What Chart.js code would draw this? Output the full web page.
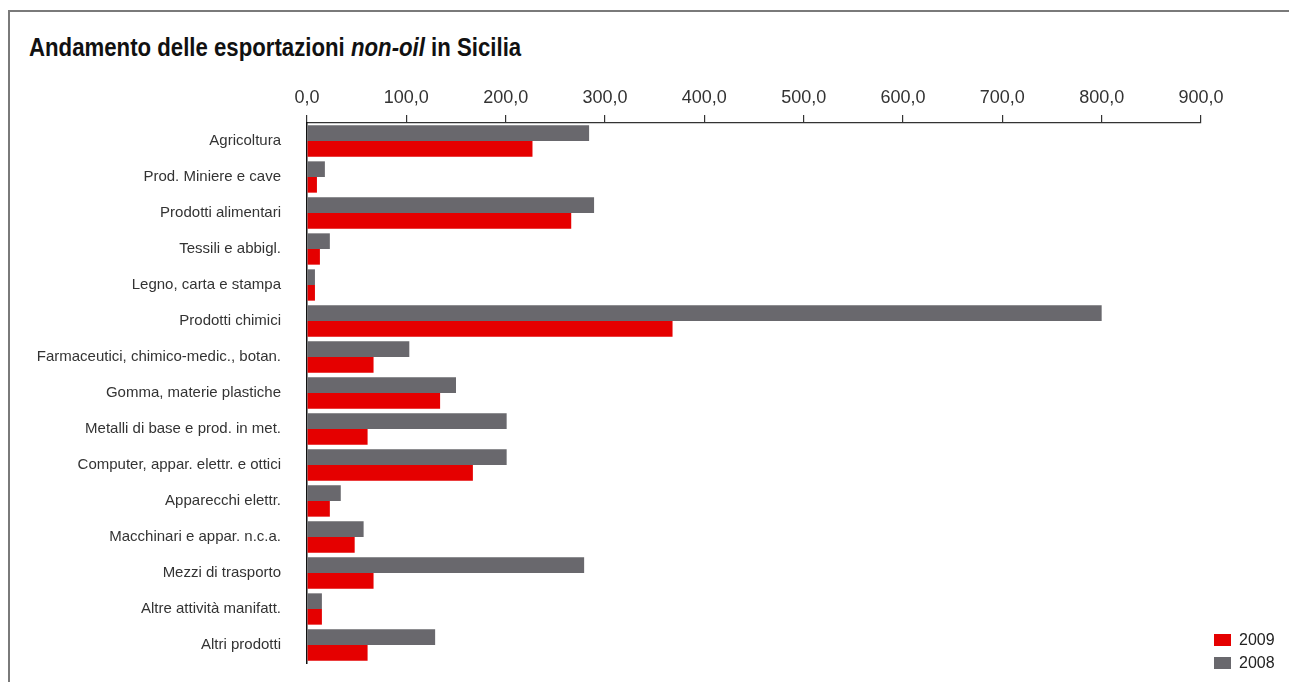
<!DOCTYPE html>
<html>
<head>
<meta charset="utf-8">
<script src="https://cdn.jsdelivr.net/npm/chart.js@4/dist/chart.umd.min.js"></script>
<style>
  html, body { margin: 0; padding: 0; background: #ffffff; overflow: hidden; }
  #wrap { position: relative; width: 1289px; height: 682px; overflow: hidden; }
  #frame {
    position: absolute; left: 8px; top: 10px; width: 1320px; height: 720px;
    border: 2px solid #7a7a7a; box-sizing: border-box;
  }
  #title {
    position: absolute; left: 29px; top: 33px; margin: 0;
    font-family: "Liberation Sans", Arial, sans-serif;
    font-weight: bold; font-size: 25px; color: #111111; white-space: nowrap;
    transform-origin: 0 0;
  }
  /* a bit taller than the window: the layout keeps ~35px free under the bars */
  #chartBox { position: absolute; left: 0; top: 0; width: 1289px; height: 698px; }
  #legend {
    position: absolute; left: 1214px; top: 628px;
    font-family: "Liberation Sans", Arial, sans-serif; font-size: 16px; color: #222222;
  }
  .legend-item { display: flex; align-items: center; height: 23px; }
  .legend-box { width: 17px; height: 12px; margin-right: 8px; }
</style>
</head>
<body>
<div id="wrap">
  <div id="frame"></div>
  <div id="title">Andamento delle esportazioni <i>non-oil</i> in Sicilia</div>
  <div id="chartBox"><canvas id="chart"></canvas></div>
  <div id="legend"></div>
</div>
<script>
// === Data ===
const categories = [
    'Agricoltura',
    'Prod. Miniere e cave',
    'Prodotti alimentari',
    'Tessili e abbigl.',
    'Legno, carta e stampa',
    'Prodotti chimici',
    'Farmaceutici, chimico-medic., botan.',
    'Gomma, materie plastiche',
    'Metalli di base e prod. in met.',
    'Computer, appar. elettr. e ottici',
    'Apparecchi elettr.',
    'Macchinari e appar. n.c.a.',
    'Mezzi di trasporto',
    'Altre attività manifatt.',
    'Altri prodotti'
];
const values2008 = [284, 18, 289, 23, 8, 800, 103, 150, 201, 201, 34, 57, 279, 15, 129];
const values2009 = [227, 10, 266, 13, 8, 368, 67, 134, 61, 167, 23, 48, 67, 15, 61];
const seriesLabels = ['2008', '2009'];

const RED = '#e50000';
const GRAY = '#69686d';

function formatTick(v) {
    return Number(v).toFixed(1).replace('.', ',');
}

// squeeze the title into the condensed width of the original
const titleEl = document.getElementById('title');
const titleW = titleEl.getBoundingClientRect().width;
titleEl.style.transform = `scaleX(${(492 / titleW).toFixed(3)})`;

const ctx = document.getElementById('chart').getContext('2d');

const chart = new Chart(ctx, {
    type: 'bar',
    data: {
        labels: categories,
        datasets: [
            { label: seriesLabels[0], data: values2008, backgroundColor: GRAY },
            { label: seriesLabels[1], data: values2009, backgroundColor: RED }
        ]
    },
    options: {
        indexAxis: 'y',
        responsive: true,
        maintainAspectRatio: false,
        animation: false,
        layout: { padding: { top: 83, right: 88, bottom: 1, left: 0 } },
        datasets: {
            bar: { barPercentage: 1.0, categoryPercentage: 0.87 }
        },
        scales: {
            x: {
                position: 'top',
                min: 0,
                max: 900,
                afterFit(scale) { scale.height = 40; },
                ticks: {
                    stepSize: 100,
                    padding: 6,
                    color: '#333333',
                    font: { family: 'Liberation Sans', size: 18 },
                    callback: v => formatTick(v)
                },
                grid: {
                    drawOnChartArea: false,
                    drawTicks: true,
                    tickLength: 8,
                    color: '#333333',
                    lineWidth: 1.2
                },
                border: { display: true, color: '#333333', width: 1.2 }
            },
            y: {
                afterFit(scale) { scale.width = 307; },
                ticks: {
                    padding: 26,
                    color: '#333333',
                    font: { family: 'Liberation Sans', size: 15 }
                },
                grid: { drawOnChartArea: false, drawTicks: false },
                border: { display: true, color: '#111111', width: 1.5 }
            }
        },
        plugins: {
            legend: { display: false },
            tooltip: { enabled: false }
        }
    }
});

// legend: 2009 first, then 2008
const legendEl = document.getElementById('legend');
[...chart.data.datasets].reverse().forEach(ds => {
    const item = document.createElement('div');
    item.className = 'legend-item';
    item.innerHTML = `<span class="legend-box" style="background:${ds.backgroundColor}"></span><span>${ds.label}</span>`;
    legendEl.appendChild(item);
});
</script>
</body>
</html>
